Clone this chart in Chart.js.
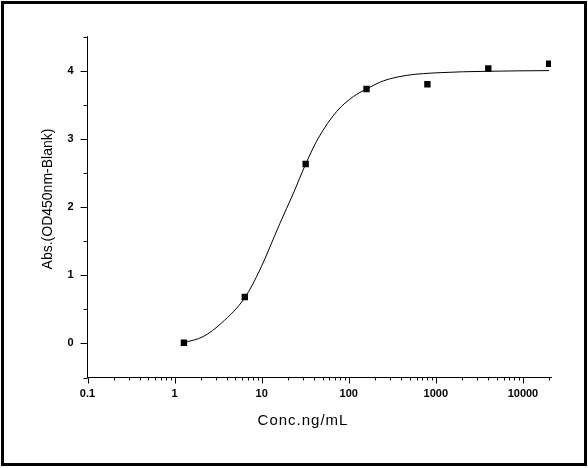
<!DOCTYPE html>
<html>
<head>
<meta charset="utf-8">
<script src="https://cdn.jsdelivr.net/npm/chart.js@4/dist/chart.umd.min.js"></script>
<style>
  html, body { margin: 0; padding: 0; background: #fff; }
  #wrap { width: 588px; height: 468px; }
</style>
</head>
<body>
<div id="wrap"><canvas id="elisaChart" width="588" height="468"></canvas></div>
<script>
// Measured points (5-fold dilution series)
const concValues = [1.28, 6.4, 32, 160, 800, 4000, 20000];
const absValues = [0.01, 0.68, 2.63, 3.73, 3.80, 4.03, 4.10];

// Fitted curve
const fitConc = [1.28, 2.13, 3.47, 6.4, 9.55, 16.2, 23.1, 32, 44.7, 72.6, 113, 160, 250, 464, 1120, 3850, 20000];
const fitAbs = [0.01, 0.10, 0.30, 0.67, 1.08, 1.76, 2.20, 2.63, 3.01, 3.40, 3.62, 3.73, 3.85, 3.93, 3.97, 3.99, 4.00];

// Axis ticks
const xMajorTicks = [0.1, 1, 10, 100, 1000, 10000];
const xMajorLabels = ['0.1', '1', '10', '100', '1000', '10000'];
const yMajorTicks = [0, 1, 2, 3, 4];
const yMinorTicks = [-0.5, 0.5, 1.5, 2.5, 3.5, 4.5];

const xTitle = 'Conc.ng/mL';
const yTitle = 'Abs.(OD450nm-Blank)';

const FONT = '"Liberation Sans", Arial, sans-serif';

// minor ticks 2..9 inside each decade
const xAllTicks = [];
xMajorTicks.forEach(d => {
    xAllTicks.push(d);
    for (let k = 2; k <= 9; k++) {
        if (d * k <= 20000) xAllTicks.push(d * k);
    }
});
const yAllTicks = yMinorTicks.concat(yMajorTicks).sort((a, b) => a - b);

// tick marks, axis titles and the outer frame
const decorPlugin = {
    id: 'decor',
    afterDraw(chart) {
        const ctx = chart.ctx;
        const xs = chart.scales.x, ys = chart.scales.y;
        const area = chart.chartArea;
        ctx.save();
        ctx.strokeStyle = '#000';
        ctx.lineWidth = 1;
        ctx.beginPath();
        xAllTicks.forEach(v => {
            const px = Math.round(xs.getPixelForValue(v)) + 0.5;
            const len = xMajorTicks.includes(v) ? 6 : 3;
            ctx.moveTo(px, area.bottom);
            ctx.lineTo(px, area.bottom + len);
        });
        yAllTicks.forEach(v => {
            const py = Math.round(ys.getPixelForValue(v)) + 0.5;
            const len = yMajorTicks.includes(v) ? 7 : 4;
            ctx.moveTo(area.left, py);
            ctx.lineTo(area.left - len, py);
        });
        ctx.stroke();

        ctx.fillStyle = '#000';
        ctx.textAlign = 'center';
        ctx.textBaseline = 'middle';
        ctx.font = '15px ' + FONT;
        if ('letterSpacing' in ctx) ctx.letterSpacing = '1px';
        ctx.fillText(xTitle, 303, 421);
        if ('letterSpacing' in ctx) ctx.letterSpacing = '0px';
        ctx.translate(48, 199);
        ctx.rotate(-Math.PI / 2);
        ctx.font = '14px ' + FONT;
        ctx.fillText(yTitle, 0, 0);
        ctx.restore();

        ctx.save();
        ctx.strokeStyle = '#000';
        ctx.lineWidth = 3;
        ctx.strokeRect(2.5, 2.5, 583, 462);
        ctx.restore();
    }
};

const tickFont = { family: FONT, size: 11, weight: 'bold' };

new Chart(document.getElementById('elisaChart'), {
    type: 'line',
    data: {
        datasets: [{
            label: 'Measured',
            data: concValues.map((c, i) => ({ x: c, y: absValues[i] })),
            showLine: false,
            pointStyle: 'rect',
            pointRadius: 4.5,
            pointBackgroundColor: '#000',
            pointBorderWidth: 0
        }, {
            label: 'Fit',
            data: fitConc.map((c, i) => ({ x: c, y: fitAbs[i] })),
            borderColor: '#000',
            borderWidth: 1,
            pointRadius: 0,
            cubicInterpolationMode: 'monotone',
            fill: false
        }]
    },
    options: {
        responsive: false,
        devicePixelRatio: 1,
        animation: false,
        layout: { padding: { left: 0, top: 36.5, right: 37, bottom: 0 } },
        plugins: { legend: { display: false }, tooltip: { enabled: false } },
        scales: {
            x: {
                type: 'logarithmic',
                min: 0.1,
                max: 21000,
                border: { display: true, color: '#000', width: 1 },
                grid: { display: false, drawTicks: false },
                ticks: {
                    autoSkip: false, maxRotation: 0, minRotation: 0,
                    padding: 10, color: '#000', font: tickFont,
                    callback: v => {
                        const i = xMajorTicks.indexOf(v);
                        return i >= 0 ? xMajorLabels[i] : '';
                    }
                },
                afterBuildTicks: s => { s.ticks = xAllTicks.map(v => ({ value: v })); },
                afterFit: s => { s.height = 90.5; }
            },
            y: {
                type: 'linear',
                min: -0.5,
                max: 4.5,
                border: { display: true, color: '#000', width: 1 },
                grid: { display: false, drawTicks: false },
                ticks: {
                    autoSkip: false, padding: 14, color: '#000', font: tickFont,
                    callback: v => yMajorTicks.includes(v) ? String(v) : ''
                },
                afterBuildTicks: s => { s.ticks = yAllTicks.map(v => ({ value: v })); },
                afterFit: s => { s.width = 87.5; }
            }
        }
    },
    plugins: [decorPlugin]
});
</script>
</body>
</html>
